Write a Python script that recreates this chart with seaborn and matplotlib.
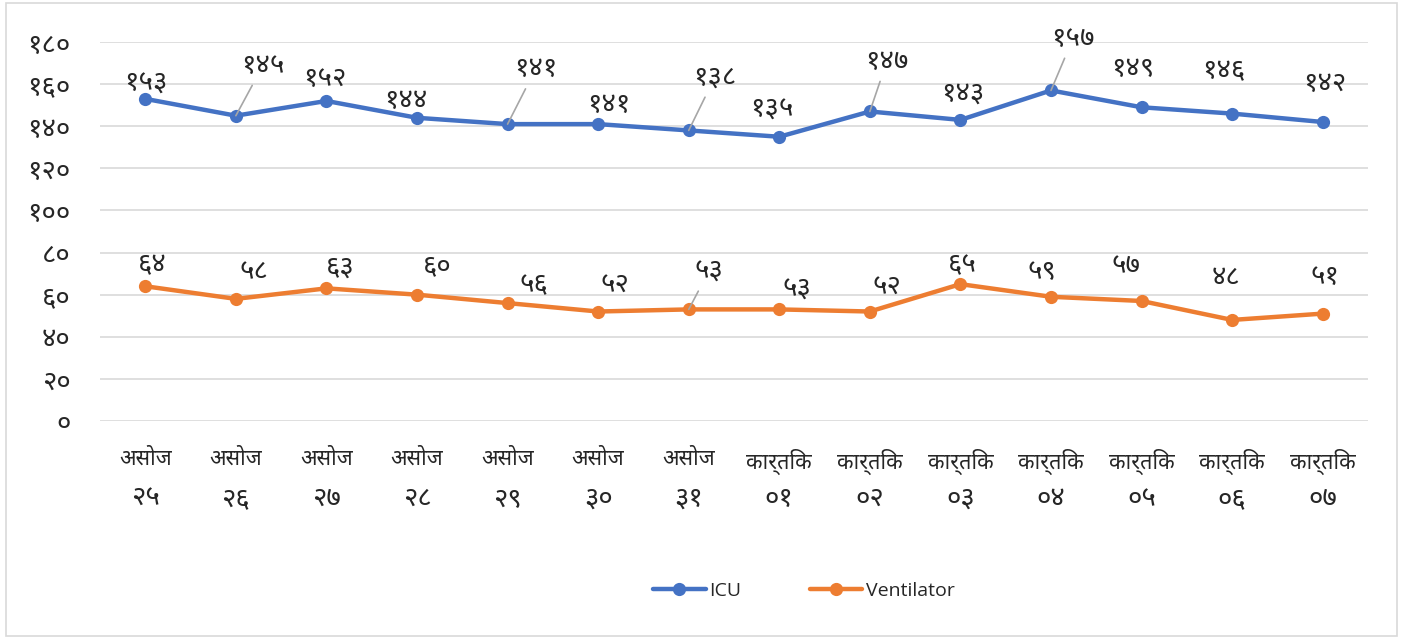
import matplotlib
matplotlib.use("Agg")
import matplotlib.pyplot as plt
from matplotlib import font_manager
from matplotlib.ft2font import FT2Font
import seaborn as sns
import pandas as pd

# data
months = ["असोज"] * 7 + ["कार्तिक"] * 7
days = ["२५", "२६", "२७", "२८", "२९", "३०", "३१", "०१", "०२", "०३", "०४", "०५", "०६", "०७"]
icu = [153, 145, 152, 144, 141, 141, 138, 135, 147, 143, 157, 149, 146, 142]
ventilator = [64, 58, 63, 60, 56, 52, 53, 53, 52, 65, 59, 57, 48, 51]
yticks = [0, 20, 40, 60, 80, 100, 120, 140, 160, 180]

# label placement (pixel offsets from each point), leader flag
icu_off = [(1, 15), (27, 50), (-2, 22), (-11, 17), (28, 55), (11, 19), (26, 53), (-7, 27),
           (17, 50), (2, 26), (22, 52), (-9, 38), (-8, 42), (2, 38)]
icu_lead = [False, True, False, False, True, False, True, False, True, False, True, False, False, False]
vent_off = [(7, 21), (18, 27), (14, 21), (20, 29), (26, 18), (17, 26), (20, 38), (18, 20),
            (17, 24), (2, 19), (-9, 25), (-16, 35), (-6, 42), (2, 37)]
vent_lead = [False, False, False, False, False, False, True, False, False, False, False, False, False, False]

DEV = "०१२३४५६७८९"


def to_dev(n):
    return "".join(DEV[int(c)] for c in str(n))


# pick an installed font with Devanagari glyphs, prefer the usual ones
preferred = ["Noto Sans Devanagari", "Nirmala UI", "Mangal", "Lohit Devanagari", "Mukta",
             "Kalimati", "FreeSans", "Gargi"]
deva_fonts = []
for f in font_manager.fontManager.ttflist:
    try:
        if 0x0905 in FT2Font(f.fname).get_charmap():
            deva_fonts.append(f.name)
    except Exception:
        pass
deva_font = None
for name in preferred:
    if name in deva_fonts:
        deva_font = name
        break
if deva_font is None and deva_fonts:
    deva_font = deva_fonts[0]

sns.set_style("white")
families = ([deva_font] if deva_font else []) + ["Open Sans", "DejaVu Sans"]
plt.rcParams["font.family"] = families

BLUE = "#4472C4"
ORANGE = "#ED7D31"
NUM_SIZE = 20

df = pd.DataFrame({
    "x": list(range(len(icu))) * 2,
    "value": icu + ventilator,
    "series": ["ICU"] * len(icu) + ["Ventilator"] * len(ventilator),
})

fig = plt.figure(figsize=(14.03, 6.39), dpi=100)
ax = fig.add_axes([100 / 1403, 1 - 421 / 639, (1368 - 100) / 1403, (421 - 42) / 639])

sns.lineplot(data=df, x="x", y="value", hue="series", palette={"ICU": BLUE, "Ventilator": ORANGE},
             marker="o", markersize=9.5, markeredgewidth=0, linewidth=3.2, ax=ax, legend=False)

for vals, offs, leads in [(icu, icu_off, icu_lead), (ventilator, vent_off, vent_lead)]:
    for i, (v, (dx, dy), lead) in enumerate(zip(vals, offs, leads)):
        if lead:
            ax.annotate(to_dev(v), (i, v), xytext=(dx, dy), textcoords="offset pixels",
                        ha="center", va="center", fontsize=NUM_SIZE,
                        arrowprops=dict(arrowstyle="-", color="#a6a6a6", lw=1.2,
                                        shrinkA=2, shrinkB=0))
        else:
            ax.annotate(to_dev(v), (i, v), xytext=(dx, dy), textcoords="offset pixels",
                        ha="center", va="center", fontsize=NUM_SIZE)

ax.set_xlim(-0.5, 13.5)
ax.set_ylim(0, 180)
ax.set_yticks(yticks)
ax.set_yticklabels([to_dev(t) for t in yticks], fontsize=NUM_SIZE)
ax.set_xticks(range(len(days)))
ax.set_xticklabels(months, fontsize=15.5)
ax.tick_params(axis="x", length=0, pad=20)
ax.tick_params(axis="y", length=0, pad=21)

# second line of the category labels (day numbers)
sec = ax.secondary_xaxis("bottom")
sec.set_xticks(range(len(days)))
sec.set_xticklabels(days, fontsize=NUM_SIZE)
sec.tick_params(length=0, pad=46)
sec.spines["bottom"].set_visible(False)

ax.yaxis.grid(True, color="#d9d9d9", lw=1.2)
ax.set_axisbelow(True)
for s in ax.spines.values():
    s.set_visible(False)
ax.set_xlabel("")
ax.set_ylabel("")

handles = [
    plt.Line2D([], [], color=BLUE, lw=3.2, marker="o", markersize=9.5, markeredgewidth=0),
    plt.Line2D([], [], color=ORANGE, lw=3.2, marker="o", markersize=9.5, markeredgewidth=0),
]
fig.legend(handles, ["ICU", "Ventilator"], loc="center", bbox_to_anchor=(0.573, 1 - 591 / 639),
           ncol=2, frameon=False, handlelength=2.7, columnspacing=3.5,
           handletextpad=0.2, prop={"family": ["Open Sans", "DejaVu Sans"], "size": 14})

fig.patches.append(plt.Rectangle((0.004, 0.005), 0.992, 0.99, transform=fig.transFigure,
                                 fill=False, edgecolor="#d9d9d9", lw=1.2))

fig.savefig("out.png", dpi=100)
